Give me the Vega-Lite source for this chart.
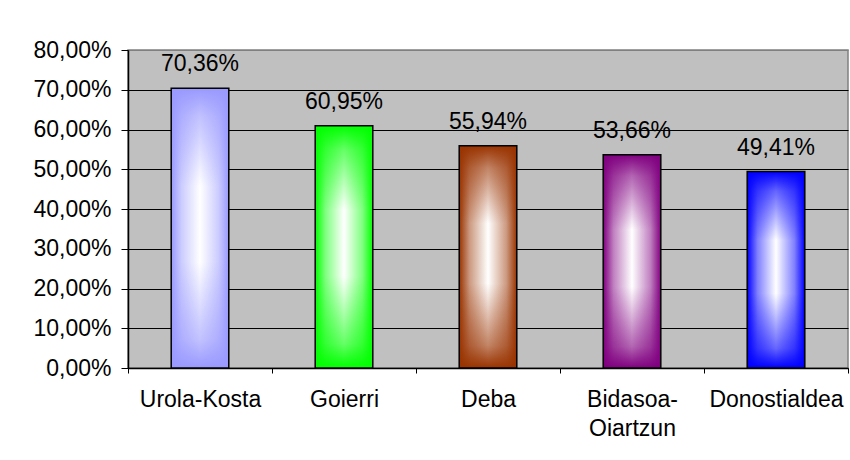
{
  "$schema": "https://vega.github.io/schema/vega-lite/v6.json",
  "width": 720,
  "height": 318,
  "autosize": "none",
  "padding": {"left": 128, "top": 50, "right": 2, "bottom": 92},
  "background": "white",
  "config": {
    "locale": {"number": {"decimal": ",", "thousands": ".", "grouping": [3], "currency": ["", " €"]}},
    "view": {"fill": "#c0c0c0", "stroke": "#808080", "strokeWidth": 1.5},
    "font": "Liberation Sans"
  },
  "data": {
    "values": [
      {"region": "Urola-Kosta", "share": 0.7036},
      {"region": "Goierri", "share": 0.6095},
      {"region": "Deba", "share": 0.5594},
      {"region": "Bidasoa-Oiartzun", "share": 0.5366},
      {"region": "Donostialdea", "share": 0.4941}
    ]
  },
  "encoding": {
    "x": {
      "field": "region", "type": "nominal", "sort": null,
      "scale": {"paddingInner": 0, "paddingOuter": 0},
      "axis": {
        "title": null, "labelAngle": 0, "tickBand": "extent", "tickSize": 5,
        "tickColor": "black", "domainColor": "black", "domainWidth": 1.5,
        "labelFontSize": 23, "labelColor": "black", "labelPadding": 15,
        "labelLineHeight": 29, "labelLimit": 0, "labelOverlap": false, "grid": false,
        "labelFont": "Liberation Sans",
        "labelExpr": "datum.value == 'Bidasoa-Oiartzun' ? ['Bidasoa-', 'Oiartzun'] : datum.value"
      }
    },
    "y": {
      "field": "share", "type": "quantitative",
      "scale": {"domain": [0, 0.8]},
      "axis": {
        "title": null, "values": [0, 0.1, 0.2, 0.3, 0.4, 0.5, 0.6, 0.7, 0.8],
        "format": ".2%", "grid": true,
        "gridColor": {"condition": {"test": "datum.value >= 0.8", "value": "#808080"}, "value": "black"},
        "gridWidth": 1, "gridOpacity": 1,
        "domainColor": "black", "domainWidth": 1.5, "tickColor": "black", "tickSize": 7,
        "labelFontSize": 23, "labelColor": "black", "labelPadding": 10,
        "labelFont": "Liberation Sans"
      }
    }
  },
  "layer": [
    {
      "mark": {"type": "bar", "width": {"band": 0.4}, "strokeWidth": 0},
      "encoding": {
        "fill": {
          "condition": [
            {"test": "datum.region === 'Urola-Kosta'", "value": {"gradient": "linear", "x1": 0, "y1": 0, "x2": 1, "y2": 0, "stops": [{"offset": 0, "color": "#9999ff"}, {"offset": 0.18, "color": "#ccccff"}, {"offset": 0.5, "color": "#ffffff"}, {"offset": 0.82, "color": "#ccccff"}, {"offset": 1, "color": "#9999ff"}]}},
            {"test": "datum.region === 'Goierri'", "value": {"gradient": "linear", "x1": 0, "y1": 0, "x2": 1, "y2": 0, "stops": [{"offset": 0, "color": "#00ff00"}, {"offset": 0.18, "color": "#80ff80"}, {"offset": 0.5, "color": "#ffffff"}, {"offset": 0.82, "color": "#80ff80"}, {"offset": 1, "color": "#00ff00"}]}},
            {"test": "datum.region === 'Deba'", "value": {"gradient": "linear", "x1": 0, "y1": 0, "x2": 1, "y2": 0, "stops": [{"offset": 0, "color": "#993300"}, {"offset": 0.18, "color": "#cc9980"}, {"offset": 0.5, "color": "#ffffff"}, {"offset": 0.82, "color": "#cc9980"}, {"offset": 1, "color": "#993300"}]}},
            {"test": "datum.region === 'Bidasoa-Oiartzun'", "value": {"gradient": "linear", "x1": 0, "y1": 0, "x2": 1, "y2": 0, "stops": [{"offset": 0, "color": "#800080"}, {"offset": 0.18, "color": "#c080c0"}, {"offset": 0.5, "color": "#ffffff"}, {"offset": 0.82, "color": "#c080c0"}, {"offset": 1, "color": "#800080"}]}}
          ],
          "value": {"gradient": "linear", "x1": 0, "y1": 0, "x2": 1, "y2": 0, "stops": [{"offset": 0, "color": "#0000ff"}, {"offset": 0.18, "color": "#8080ff"}, {"offset": 0.5, "color": "#ffffff"}, {"offset": 0.82, "color": "#8080ff"}, {"offset": 1, "color": "#0000ff"}]}
        }
      }
    },
    {
      "mark": {"type": "bar", "width": {"band": 0.4}, "stroke": "black", "strokeWidth": 1.5},
      "encoding": {
        "fill": {
          "condition": [
            {"test": "datum.region === 'Urola-Kosta'", "value": {"gradient": "linear", "x1": 0, "y1": 0, "x2": 0, "y2": 1, "stops": [{"offset": 0, "color": "rgba(153,153,255,1)"}, {"offset": 0.1, "color": "rgba(153,153,255,0.6)"}, {"offset": 0.35, "color": "rgba(153,153,255,0)"}, {"offset": 0.62, "color": "rgba(153,153,255,0)"}, {"offset": 0.9, "color": "rgba(153,153,255,0.6)"}, {"offset": 1, "color": "rgba(153,153,255,1)"}]}},
            {"test": "datum.region === 'Goierri'", "value": {"gradient": "linear", "x1": 0, "y1": 0, "x2": 0, "y2": 1, "stops": [{"offset": 0, "color": "rgba(0,255,0,1)"}, {"offset": 0.1, "color": "rgba(0,255,0,0.6)"}, {"offset": 0.35, "color": "rgba(0,255,0,0)"}, {"offset": 0.62, "color": "rgba(0,255,0,0)"}, {"offset": 0.9, "color": "rgba(0,255,0,0.6)"}, {"offset": 1, "color": "rgba(0,255,0,1)"}]}},
            {"test": "datum.region === 'Deba'", "value": {"gradient": "linear", "x1": 0, "y1": 0, "x2": 0, "y2": 1, "stops": [{"offset": 0, "color": "rgba(153,51,0,1)"}, {"offset": 0.1, "color": "rgba(153,51,0,0.6)"}, {"offset": 0.35, "color": "rgba(153,51,0,0)"}, {"offset": 0.62, "color": "rgba(153,51,0,0)"}, {"offset": 0.9, "color": "rgba(153,51,0,0.6)"}, {"offset": 1, "color": "rgba(153,51,0,1)"}]}},
            {"test": "datum.region === 'Bidasoa-Oiartzun'", "value": {"gradient": "linear", "x1": 0, "y1": 0, "x2": 0, "y2": 1, "stops": [{"offset": 0, "color": "rgba(128,0,128,1)"}, {"offset": 0.1, "color": "rgba(128,0,128,0.6)"}, {"offset": 0.35, "color": "rgba(128,0,128,0)"}, {"offset": 0.62, "color": "rgba(128,0,128,0)"}, {"offset": 0.9, "color": "rgba(128,0,128,0.6)"}, {"offset": 1, "color": "rgba(128,0,128,1)"}]}}
          ],
          "value": {"gradient": "linear", "x1": 0, "y1": 0, "x2": 0, "y2": 1, "stops": [{"offset": 0, "color": "rgba(0,0,255,1)"}, {"offset": 0.1, "color": "rgba(0,0,255,0.6)"}, {"offset": 0.35, "color": "rgba(0,0,255,0)"}, {"offset": 0.62, "color": "rgba(0,0,255,0)"}, {"offset": 0.9, "color": "rgba(0,0,255,0.6)"}, {"offset": 1, "color": "rgba(0,0,255,1)"}]}
        }
      }
    },
    {
      "mark": {"type": "text", "baseline": "alphabetic", "dy": -17, "fontSize": 23, "font": "Liberation Sans", "color": "black"},
      "encoding": {
        "text": {"field": "share", "type": "quantitative", "format": ".2%"}
      }
    }
  ]
}
